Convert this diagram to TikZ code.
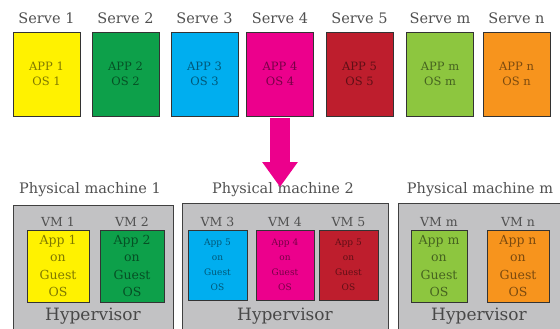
\documentclass[tikz,border=0pt]{standalone}
\usepackage{fontspec}
\setmainfont{DejaVu Serif}
\usetikzlibrary{arrows.meta}
\definecolor{cY}{HTML}{FFF200}
\definecolor{cG}{HTML}{0DA04A}
\definecolor{cC}{HTML}{00AEEF}
\definecolor{cM}{HTML}{EC008C}
\definecolor{cR}{HTML}{BE1E2D}
\definecolor{cL}{HTML}{8DC63F}
\definecolor{cO}{HTML}{F7941D}
\definecolor{pmgray}{HTML}{C2C2C4}
\definecolor{lblgray}{HTML}{505050}
\tikzset{
  srv/.style={draw=black!80, line width=0.8pt, fill=#1, text=#1!50!black,
    minimum width=67pt, minimum height=84pt, inner sep=0pt, align=center,
    font=\fontsize{11.5}{15}\selectfont},
  lbl/.style={text=lblgray, inner sep=0pt, font=\fontsize{14.5}{16}\selectfont},
  pmbox/.style={draw=black!75, line width=0.8pt, fill=pmgray, anchor=north west, inner sep=0pt},
  vmbox/.style={draw=black!80, line width=0.8pt, fill=#1, text=#1!50!black,
    minimum height=72pt, inner sep=0pt, align=center,
    font=\fontsize{12.5}{17.5}\selectfont},
  vmsmall/.style={font=\fontsize{9}{15}\selectfont},
  vmlbl/.style={text=lblgray, inner sep=0pt, font=\fontsize{12.5}{14}\selectfont},
  hyp/.style={text=lblgray!90!black, inner sep=0pt, font=\fontsize{17}{18}\selectfont},
  bigarrow/.style={draw=cM, line width=20pt, -{Triangle[width=34pt,length=25pt]}},
}
\begin{document}
\begin{tikzpicture}[x=1pt,y=-1pt]
\useasboundingbox (0,0) rectangle (560,329);
\clip (0,0) rectangle (560,329);
% top servers
\node[srv=cY] (s1) at (46.5,74) {APP 1\\OS 1};
\node[srv=cG] (s2) at (125.5,74) {APP 2\\OS 2};
\node[srv=cC] (s3) at (204.5,74) {APP 3\\OS 3};
\node[srv=cM] (s4) at (280,74) {APP 4\\OS 4};
\node[srv=cR] (s5) at (359.5,74) {APP 5\\OS 5};
\node[srv=cL] (sm) at (440,74) {APP m\\OS m};
\node[srv=cO] (sn) at (516.5,74) {APP n\\OS n};
\node[lbl] (t1) at (46.5,18) {Serve 1};
\node[lbl] (t2) at (125.5,18) {Serve 2};
\node[lbl] (t3) at (204.5,18) {Serve 3};
\node[lbl] (t4) at (280,18) {Serve 4};
\node[lbl] (t5) at (359.5,18) {Serve 5};
\node[lbl] (tm) at (440,18) {Serve m};
\node[lbl] (tn) at (516.5,18) {Serve n};
% physical machines
\node[pmbox, minimum width=160pt, minimum height=140pt] (pm1) at (13,205) {};
\node[pmbox, minimum width=206pt, minimum height=140pt] (pm2) at (182,203) {};
\node[pmbox, minimum width=166pt, minimum height=140pt] (pmm) at (398,203) {};
\node[lbl] (p1) at (90,190) {Physical machine 1};
\node[lbl] (p2) at (283,190) {Physical machine 2};
\node[lbl] (pm) at (480,190) {Physical machine m};
% arrow
\coordinate (tip) at (280,187);
\draw[bigarrow] ([yshift=-2pt]s4.south) -- (tip);
% VMs
\node[vmbox=cY, minimum width=62pt] (v1) at (58,266) {App 1\\on\\Guest\\OS};
\node[vmbox=cG, minimum width=64pt] (v2) at (132,266) {App 2\\on\\Guest\\OS};
\node[vmbox=cC, vmsmall, minimum width=59pt, minimum height=70pt] (v3) at (217.5,265) {App 5\\on\\Guest\\OS};
\node[vmbox=cM, vmsmall, minimum width=58pt, minimum height=70pt] (v4) at (285,265) {App 4\\on\\Guest\\OS};
\node[vmbox=cR, vmsmall, minimum width=59pt, minimum height=70pt] (v5) at (348.5,265) {App 5\\on\\Guest\\OS};
\node[vmbox=cL, minimum width=56pt] (vm) at (439,266) {App m\\on\\Guest\\OS};
\node[vmbox=cO, minimum width=62pt] (vn) at (518,266) {App n\\on\\Guest\\OS};
\node[vmlbl] (n1) at (58,222) {VM 1};
\node[vmlbl] (n2) at (132,222) {VM 2};
\node[vmlbl] (n3) at (217.5,222) {VM 3};
\node[vmlbl] (n4) at (285,222) {VM 4};
\node[vmlbl] (n5) at (348.5,222) {VM 5};
\node[vmlbl] (nm) at (439,222) {VM m};
\node[vmlbl] (nn) at (518,222) {VM n};
\node[hyp] (h1) at (93,316) {Hypervisor};
\node[hyp] (h2) at (285,316) {Hypervisor};
\node[hyp] (hm) at (479,316) {Hypervisor};
\end{tikzpicture}
\end{document}
